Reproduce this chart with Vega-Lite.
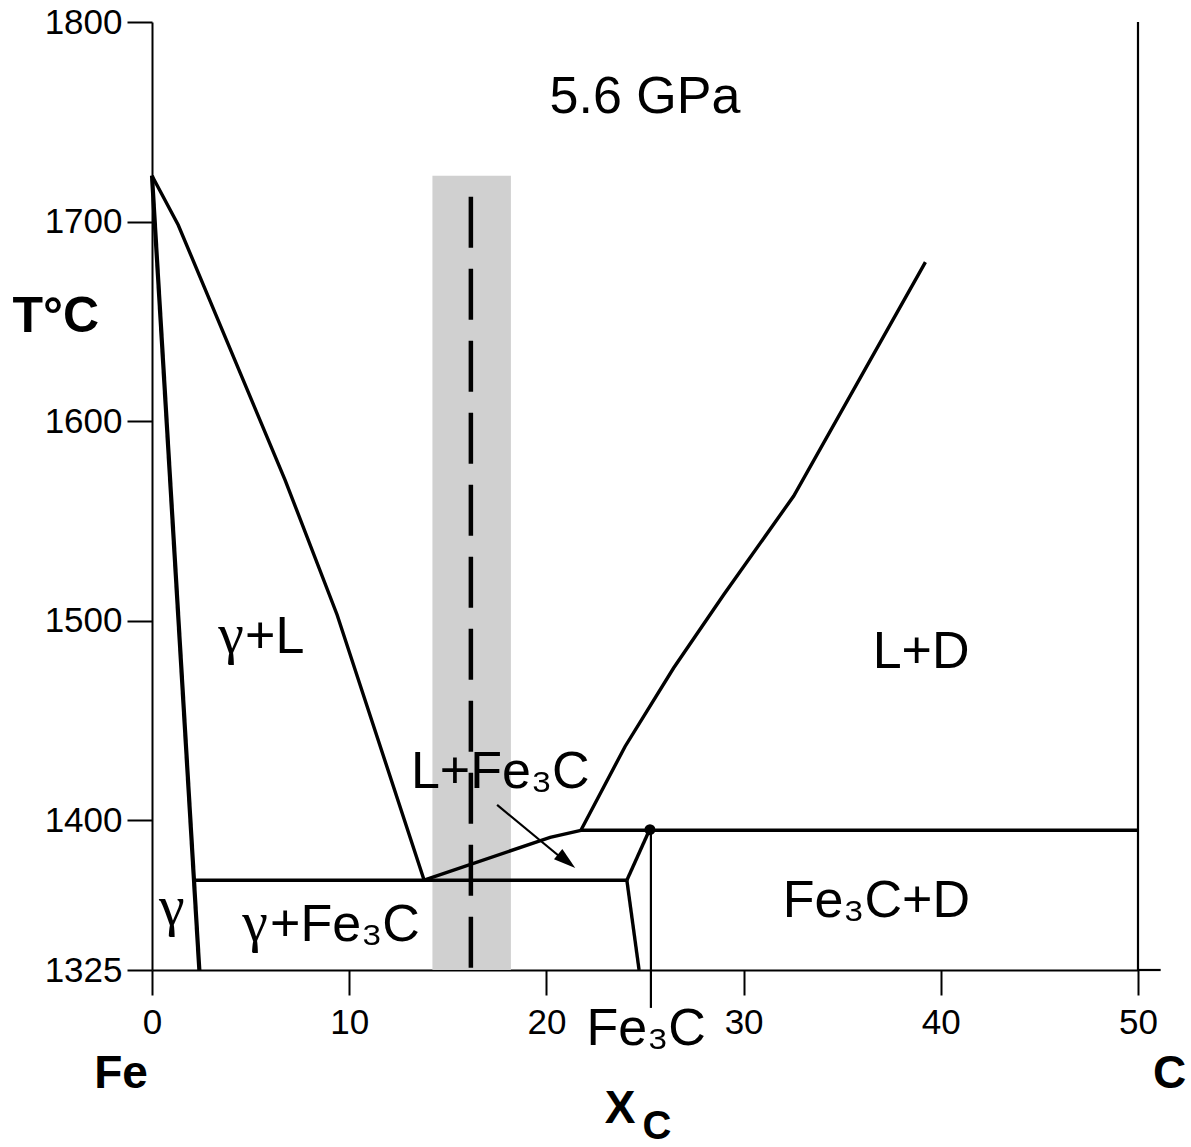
{
  "$schema": "https://vega.github.io/schema/vega-lite/v6.json",
  "width": 986,
  "height": 948,
  "autosize": {"type": "none"},
  "padding": {"left": 152, "top": 22, "right": 53, "bottom": 177},
  "background": "white",
  "config": {
    "view": {"stroke": null},
    "axis": {
      "domainColor": "black", "domainWidth": 2, "tickColor": "black", "tickWidth": 2,
      "labelColor": "black", "labelFont": "Liberation Sans", "labelFontSize": 35,
      "grid": false, "title": null, "tickSize": 25, "zindex": 1,
      "labelFlush": false, "labelOverlap": false
    }
  },
  "datasets": {
    "thick": [
      {"seg": "A", "o": 0, "x": 0, "T": 1723},
      {"seg": "A", "o": 1, "x": 1.33, "T": 1698.3},
      {"seg": "A", "o": 2, "x": 6.75, "T": 1570.5},
      {"seg": "A", "o": 3, "x": 9.39, "T": 1502.9},
      {"seg": "A", "o": 4, "x": 13.8, "T": 1370},
      {"seg": "C", "o": 0, "x": 2.13, "T": 1370},
      {"seg": "C", "o": 1, "x": 24.08, "T": 1370},
      {"seg": "D", "o": 0, "x": 13.8, "T": 1370},
      {"seg": "D", "o": 1, "x": 20.19, "T": 1391.5},
      {"seg": "D", "o": 2, "x": 21.75, "T": 1395},
      {"seg": "E", "o": 0, "x": 21.75, "T": 1395},
      {"seg": "E", "o": 1, "x": 23.99, "T": 1437},
      {"seg": "E", "o": 2, "x": 26.45, "T": 1476.3},
      {"seg": "E", "o": 3, "x": 28.99, "T": 1513},
      {"seg": "E", "o": 4, "x": 32.54, "T": 1562.5},
      {"seg": "E", "o": 5, "x": 39.22, "T": 1679.7},
      {"seg": "F", "o": 0, "x": 21.75, "T": 1395},
      {"seg": "F", "o": 1, "x": 50, "T": 1395},
      {"seg": "G", "o": 0, "x": 24.08, "T": 1370},
      {"seg": "G", "o": 1, "x": 25.22, "T": 1395},
      {"seg": "H", "o": 0, "x": 24.08, "T": 1370},
      {"seg": "H", "o": 1, "x": 24.7, "T": 1325}
    ],
    "solidus": [
      {"o": 0, "x": 0, "T": 1723},
      {"o": 1, "x": 2.4, "T": 1325}
    ],
    "thin": [
      {"seg": "I", "o": 0, "x": 25.3, "T": 1395},
      {"seg": "I", "o": 1, "x": 25.3, "T": 1306},
      {"seg": "J", "o": 0, "x": 50, "T": 1800},
      {"seg": "J", "o": 1, "x": 50, "T": 1325},
      {"seg": "K", "o": 0, "x": 50, "T": 1325},
      {"seg": "K", "o": 1, "x": 51.15, "T": 1325},
      {"seg": "arrow", "o": 0, "x": 17.5, "T": 1407.7},
      {"seg": "arrow", "o": 1, "x": 20.9, "T": 1380}
    ],
    "band": [{"x": 14.22, "x2": 18.2, "T": 1325, "T2": 1723}],
    "dash": [{"o": 0, "x": 16.17, "T": 1712.5}, {"o": 1, "x": 16.17, "T": 1325}],
    "dot": [{"x": 25.25, "T": 1395.3}],
    "head": [{"x": 21.03, "T": 1379.6}],
    "sans": [
      {"label": "5.6 GPa", "x": 25.0, "T": 1754.4},
      {"label": "L+D", "x": 39.0, "T": 1476.3},
      {"label": "Fe₃C+D", "x": 36.73, "T": 1351.6},
      {"label": "L+Fe₃C", "x": 17.66, "T": 1416.2},
      {"label": "Fe₃C", "x": 25.06, "T": 1287.4}
    ],
    "sansLeft": [
      {"label": "+L", "x": 4.72, "T": 1483.8},
      {"label": "+Fe₃C", "x": 5.99, "T": 1339.5}
    ],
    "gamma": [
      {"label": "γ", "x": 4.01, "T": 1483.8},
      {"label": "γ", "x": 1.01, "T": 1347.5},
      {"label": "γ", "x": 5.23, "T": 1339.5}
    ],
    "boldLeft": [{"label": "T°C", "x": -7.07, "T": 1644.8}],
    "bold": [
      {"label": "Fe", "x": -1.57, "T": 1265.9},
      {"label": "C", "x": 51.6, "T": 1266},
      {"label": "X", "x": 23.74, "T": 1248.5}
    ],
    "boldSub": [{"label": "C", "x": 25.6, "T": 1240.5}]
  },
  "encoding": {
    "x": {"field": "x", "type": "quantitative",
      "scale": {"domain": [0, 50], "nice": false, "zero": false},
      "axis": {"values": [0, 10, 20, 30, 40, 50], "format": "d", "labelPadding": 10}},
    "y": {"field": "T", "type": "quantitative",
      "scale": {"domain": [1325, 1800], "nice": false, "zero": false},
      "axis": {"values": [1325, 1400, 1500, 1600, 1700, 1800], "format": "d", "labelPadding": 5}}
  },
  "layer": [
    {"data": {"name": "band"}, "mark": {"type": "rect", "color": "#d0d0d0"},
      "encoding": {"x2": {"field": "x2"}, "y2": {"field": "T2"}}},
    {"data": {"name": "dash"}, "mark": {"type": "line", "color": "black", "strokeWidth": 4.5, "strokeDash": [51, 21]},
      "encoding": {"order": {"field": "o"}}},
    {"data": {"name": "thick"}, "mark": {"type": "line", "color": "black", "strokeWidth": 3.4},
      "encoding": {"detail": {"field": "seg"}, "order": {"field": "o"}}},
    {"data": {"name": "solidus"}, "mark": {"type": "line", "color": "black", "strokeWidth": 4.2},
      "encoding": {"order": {"field": "o"}}},
    {"data": {"name": "thin"}, "mark": {"type": "line", "color": "black", "strokeWidth": 2.2},
      "encoding": {"detail": {"field": "seg"}, "order": {"field": "o"}}},
    {"data": {"name": "dot"}, "mark": {"type": "point", "shape": "circle", "filled": true, "color": "black", "size": 120, "opacity": 1}},
    {"data": {"name": "head"}, "mark": {"type": "point", "shape": "M1,0L-1,-0.6L-1,0.6Z", "filled": true, "color": "black", "size": 484, "angle": 39, "opacity": 1}},
    {"data": {"name": "sans"}, "mark": {"type": "text", "font": "Liberation Sans", "fontSize": 52, "align": "center", "baseline": "alphabetic", "color": "black"},
      "encoding": {"text": {"field": "label"}}},
    {"data": {"name": "sansLeft"}, "mark": {"type": "text", "font": "Liberation Sans", "fontSize": 52, "align": "left", "baseline": "alphabetic", "color": "black"},
      "encoding": {"text": {"field": "label"}}},
    {"data": {"name": "gamma"}, "mark": {"type": "text", "font": "Liberation Serif", "fontSize": 58, "align": "center", "baseline": "alphabetic", "color": "black"},
      "encoding": {"text": {"field": "label"}}},
    {"data": {"name": "boldLeft"}, "mark": {"type": "text", "font": "Liberation Sans", "fontWeight": "bold", "fontSize": 50, "align": "left", "baseline": "alphabetic", "color": "black"},
      "encoding": {"text": {"field": "label"}}},
    {"data": {"name": "bold"}, "mark": {"type": "text", "font": "Liberation Sans", "fontWeight": "bold", "fontSize": 46, "align": "center", "baseline": "alphabetic", "color": "black"},
      "encoding": {"text": {"field": "label"}}},
    {"data": {"name": "boldSub"}, "mark": {"type": "text", "font": "Liberation Sans", "fontWeight": "bold", "fontSize": 40, "align": "center", "baseline": "alphabetic", "color": "black"},
      "encoding": {"text": {"field": "label"}}}
  ]
}
